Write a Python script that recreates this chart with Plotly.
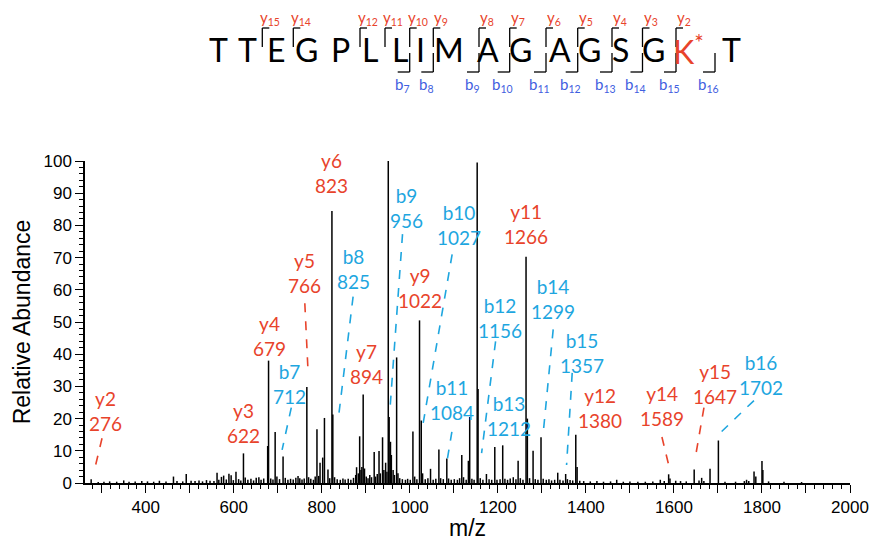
import plotly.graph_objects as go

# ---------------- data ----------------
mz = [276, 292, 305, 318, 334, 350, 362, 376, 391, 404, 418, 431, 446, 463, 471, 484, 492, 503, 512, 521,
      529, 538, 546, 555, 562, 566, 572, 577, 583, 589, 594, 599, 605, 611, 616, 622, 626, 632, 639, 645,
      651, 657, 662, 668, 677, 679, 684, 689, 694, 698, 704, 712, 717, 723, 729, 735, 741, 746, 750, 755,
      760, 766, 770, 775, 781, 785, 789, 793, 796, 802, 806, 814, 818, 823, 825, 829, 835, 842, 848, 853,
      860, 866, 872, 877, 879, 883, 886, 889, 891, 894, 897, 901, 905, 909, 913, 919, 922, 926, 930, 933,
      938, 941, 945, 948, 951, 953, 956, 958, 962, 965, 970, 973, 977, 983, 990, 995, 1001, 1007, 1011, 1016,
      1022, 1026, 1029, 1035, 1041, 1047, 1053, 1059, 1066, 1070, 1076, 1084, 1088, 1094, 1101, 1108, 1113, 1118, 1122, 1128,
      1133, 1136, 1141, 1146, 1153, 1155, 1160, 1166, 1174, 1180, 1186, 1193, 1198, 1205, 1211, 1216, 1222, 1228, 1235, 1241,
      1246, 1251, 1257, 1264, 1267, 1272, 1280, 1285, 1291, 1298, 1303, 1310, 1316, 1322, 1329, 1336, 1341, 1348, 1354, 1358,
      1364, 1370, 1377, 1380, 1386, 1395, 1410, 1425, 1440, 1456, 1470, 1485, 1500, 1518, 1535, 1552, 1569, 1578, 1588, 1591,
      1604, 1615, 1628, 1646, 1657, 1663, 1668, 1682, 1701, 1716, 1740, 1760, 1765, 1770, 1782, 1786, 1800, 1802, 1815, 1850,
      1890]
intensity = [1.2, 0.3, 0.4, 0.5, 0.4, 0.8, 0.4, 0.5, 0.6, 0.5, 0.4, 0.7, 0.5, 2.0, 0.6, 0.5, 2.8, 0.7, 0.6, 0.8,
             0.5, 0.9, 0.7, 0.6, 3.2, 1.0, 1.9, 2.3, 1.1, 2.9, 2.4, 0.9, 3.5, 1.2, 0.8, 9.2, 1.7, 1.0, 1.3, 0.8,
             1.6, 1.8, 1.0, 1.4, 11.5, 38.0, 1.4, 1.1, 15.8, 2.0, 1.2, 8.2, 1.6, 1.0, 1.3, 1.1, 1.6, 2.2, 1.5, 1.1,
             1.4, 29.8, 1.8, 1.3, 1.0, 2.0, 16.7, 2.2, 6.3, 7.9, 20.2, 4.2, 1.5, 84.5, 21.3, 1.8, 1.2, 1.0, 1.4, 1.1,
             1.3, 1.0, 1.6, 2.5, 4.9, 3.0, 14.5, 4.0, 5.0, 27.5, 4.5, 2.0, 1.5, 2.5, 1.8, 9.6, 2.0, 2.8, 9.9, 3.0,
             14.2, 4.0, 6.3, 3.5, 100.0, 20.5, 12.8, 8.7, 4.0, 2.5, 39.0, 3.0, 1.5, 1.2, 1.0, 1.3, 1.0, 16.0, 2.0, 1.2,
             50.5, 19.4, 3.0, 1.2, 1.5, 4.4, 1.0, 1.3, 10.4, 1.5, 1.2, 7.6, 1.4, 1.0, 1.2, 1.0, 1.5, 8.7, 1.8, 1.0,
             6.9, 20.5, 1.3, 1.0, 99.5, 29.2, 1.5, 1.0, 2.8, 1.2, 1.0, 11.2, 1.0, 1.2, 11.7, 1.3, 1.0, 1.4, 1.8, 1.2,
             6.9, 1.5, 1.0, 70.3, 20.0, 1.5, 10.0, 1.2, 1.0, 14.2, 1.3, 1.0, 1.2, 0.8, 1.0, 3.2, 1.0, 0.8, 2.8, 1.2,
             0.9, 0.8, 15.0, 5.0, 0.7, 0.6, 0.5, 0.6, 0.4, 0.5, 1.0, 0.4, 0.5, 0.4, 0.4, 0.5, 1.0, 0.6, 2.7, 1.4,
             0.7, 0.6, 0.5, 4.2, 0.8, 1.6, 0.6, 4.4, 13.2, 0.4, 0.4, 0.6, 1.0, 0.6, 3.6, 2.0, 6.8, 4.0, 0.5, 0.4,
             0.3]

ion_names = ["y2", "y3", "y4", "b7", "y5", "y6", "b8", "y7", "y8", "b9", "y9", "b10", "b11", "y10",
             "b12", "b13", "y11", "b14", "b15", "y12", "y14", "y15", "b16"]
ion_mz = [276, 622, 679, 712, 766, 823, 825, 894, 951, 956, 1022, 1027, 1084, 1153,
          1156, 1212, 1266, 1299, 1357, 1380, 1589, 1647, 1702]

sequence = ["T", "T", "E", "G", "P", "L", "L", "I", "M", "A", "G", "A", "G", "S", "G", "K", "T"]
modified_residue = 15
y_ions_seq = [15, 14, 12, 11, 10, 9, 8, 7, 6, 5, 4, 3, 2]
b_ions_seq = [7, 8, 9, 10, 11, 12, 13, 14, 15, 16]

# ---------------- layout / styling ----------------
RED = "#E8432B"
CYAN = "#1EA6DF"
BLUE = "#3F60E0"
LABEL_FONT = "Lato, Calibri, Carlito, sans-serif"
AXIS_FONT = "Arial, Liberation Sans, sans-serif"

L, R, T, B = 85, 20, 161, 58
W, H = 870, 541
PW, PH = W - L - R, H - T - B


def px2paper(px, py):
    return (px - L) / PW, (H - B - py) / PH


# label centre positions (data coords) and leader lines (data coords)
label_pos = {
    "y2": (309, 22.3), "y3": (621, 18.6), "y4": (682, 45.6), "b7": (727, 30.9),
    "y5": (761, 65.2), "y6": (822, 96.2), "b8": (873, 66.6), "y7": (902, 37.1),
    "y8": (954, 110.0), "b9": (992, 85.5), "y9": (1023, 60.7), "b10": (1111, 80.1),
    "b11": (1095, 25.9), "y10": (1154, 107.5), "b12": (1204, 51.1), "b13": (1225, 20.9),
    "y11": (1265, 80.3), "b14": (1325, 57.1), "b15": (1390, 40.3), "y12": (1433, 23.3),
    "y14": (1574, 24.0), "y15": (1693, 30.9), "b16": (1798, 33.4),
}
leaders = {
    "y2": (300.7, 13.9, 282.5, 3.5), "b7": (730.7, 23.4, 709.8, 10.3),
    "y5": (761.4, 55.8, 768.9, 34.2), "b8": (871.1, 57.9, 838.6, 21.2),
    "b9": (983.4, 77.3, 954.5, 22.2), "b10": (1096.1, 71.0, 1028.9, 17.5),
    "b11": (1095.5, 15.9, 1084.1, 6.5), "b12": (1194.8, 44.0, 1163.0, 9.3),
    "b14": (1325.7, 47.7, 1303.0, 15.5), "b15": (1368.9, 34.2, 1356.1, 5.6),
    "y14": (1572.7, 14.3, 1590.9, 4.0), "y15": (1668.2, 23.4, 1647.7, 7.2),
    "b16": (1781.8, 25.6, 1708.4, 16.0),
}

# header geometry (pixels)
letter_px = [218, 247, 276, 306, 340, 370, 399.5, 420, 448.5, 487.5, 520, 560, 589.5, 620, 653.5, 688.5, 731.5]
letter_py = 50
boundary_px = {2: 262.3, 3: 293.3, 5: 360, 6: 385, 7: 409.7, 8: 433.3, 9: 479, 10: 509.7,
               11: 546, 12: 577.7, 13: 612, 14: 642.5, 15: 676, 16: 715}

# ---------------- figure ----------------
xs, ys = [], []
for m, h in zip(mz, intensity):
    xs += [m, m, None]
    ys += [0, h, None]

fig = go.Figure(go.Scatter(x=xs, y=ys, mode="lines", line=dict(color="black", width=1.5),
                           hoverinfo="skip", showlegend=False))

annotations = []
shapes = []

for name, m in zip(ion_names, ion_mz):
    col = RED if name.startswith("y") else CYAN
    lx, ly = label_pos[name]
    annotations.append(dict(x=lx, y=ly, xref="x", yref="y", text=f"{name}<br>{m}", showarrow=False,
                            xanchor="center", yanchor="middle",
                            font=dict(family=LABEL_FONT, size=19, color=col)))
    if name in leaders:
        x0, y0, x1, y1 = leaders[name]
        shapes.append(dict(type="line", xref="x", yref="y", x0=x0, y0=y0, x1=x1, y1=y1,
                           line=dict(color=col, width=1.6, dash="dash")))

# sequence header
for i, (aa, px) in enumerate(zip(sequence, letter_px)):
    x, y = px2paper(px, letter_py)
    txt = aa
    col = "black"
    if i == modified_residue:
        txt = aa + "<sup>*</sup>"
        col = RED
    annotations.append(dict(x=x, y=y, xref="paper", yref="paper", text=txt, showarrow=False,
                            xanchor="center", yanchor="middle",
                            font=dict(family=LABEL_FONT, size=32, color=col)))

n = len(sequence)
for k in y_ions_seq:
    bx = boundary_px[n - k]
    xa, ya = px2paper(bx, 28)
    xb, yb = px2paper(bx, 47)
    xc, _ = px2paper(bx + 7, 28)
    shapes.append(dict(type="line", xref="paper", yref="paper", x0=xa, y0=ya, x1=xb, y1=yb,
                       line=dict(color="black", width=1.3)))
    shapes.append(dict(type="line", xref="paper", yref="paper", x0=xa, y0=ya, x1=xc, y1=ya,
                       line=dict(color="black", width=1.3)))
    tx, ty = px2paper(bx + 8, 18)
    annotations.append(dict(x=tx, y=ty, xref="paper", yref="paper", text=f"y<sub>{k}</sub>",
                            showarrow=False, xanchor="center", yanchor="middle",
                            font=dict(family=LABEL_FONT, size=15, color=RED)))

for k in b_ions_seq:
    bx = boundary_px[k]
    xa, ya = px2paper(bx, 72)
    xb, yb = px2paper(bx, 53)
    xc, _ = px2paper(bx - 12, 72)
    shapes.append(dict(type="line", xref="paper", yref="paper", x0=xa, y0=ya, x1=xb, y1=yb,
                       line=dict(color="black", width=1.3)))
    shapes.append(dict(type="line", xref="paper", yref="paper", x0=xa, y0=ya, x1=xc, y1=ya,
                       line=dict(color="black", width=1.3)))
    tx, ty = px2paper(bx - 7, 85)
    annotations.append(dict(x=tx, y=ty, xref="paper", yref="paper", text=f"b<sub>{k}</sub>",
                            showarrow=False, xanchor="center", yanchor="middle",
                            font=dict(family=LABEL_FONT, size=15, color=BLUE)))

xtick_vals = list(range(300, 2001, 100))
xtick_text = [str(v) if v % 200 == 0 else "" for v in xtick_vals]

fig.update_layout(
    width=W, height=H,
    margin=dict(l=L, r=R, t=T, b=B, autoexpand=False),
    plot_bgcolor="white", paper_bgcolor="white",
    annotations=annotations, shapes=shapes,
    xaxis=dict(range=[262, 2000], showline=True, linecolor="black", linewidth=1.5,
               automargin=False,
               ticks="outside", ticklen=8, tickwidth=1.3, tickcolor="black",
               tickmode="array", tickvals=xtick_vals, ticktext=xtick_text,
               minor=dict(ticks="outside", ticklen=4, dtick=20, tick0=0, tickcolor="black", tickwidth=1),
               showgrid=False, zeroline=False,
               tickfont=dict(family=AXIS_FONT, size=17, color="black"),
               title=dict(text="m/z", font=dict(family=AXIS_FONT, size=23, color="black"), standoff=6)),
    yaxis=dict(range=[0, 100], showline=True, linecolor="black", linewidth=1.5,
               automargin=False,
               ticks="outside", ticklen=8, tickwidth=1.3, tickcolor="black",
               tickmode="linear", tick0=0, dtick=10,
               minor=dict(ticks="outside", ticklen=4, dtick=2, tick0=0, tickcolor="black", tickwidth=1),
               showgrid=False, zeroline=False,
               tickfont=dict(family=AXIS_FONT, size=17, color="black"),
               title=dict(text="Relative Abundance", font=dict(family=AXIS_FONT, size=23, color="black"),
                          standoff=6)),
)

fig.write_html("out.html", config={"displayModeBar": False},
               post_script="document.body.style.margin='0px';document.body.style.padding='0px';")
